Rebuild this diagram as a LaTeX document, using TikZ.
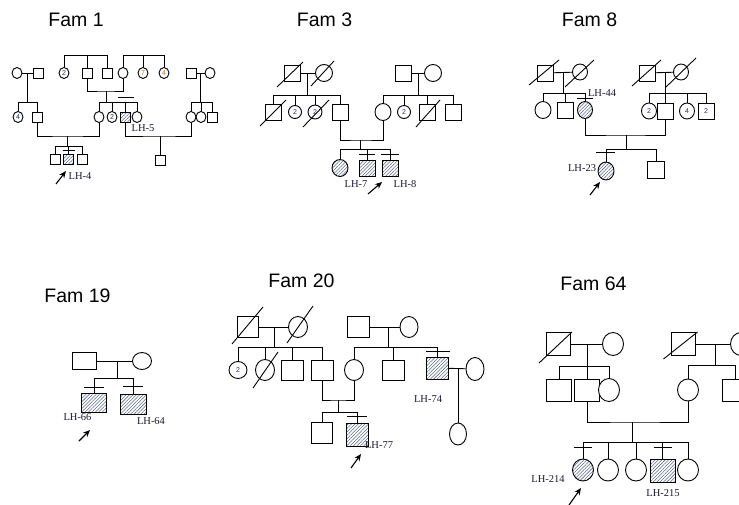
\documentclass[tikz,border=0pt]{standalone}
\usepackage{fontspec}
\setmainfont{Liberation Serif}
\newfontfamily\arialf{Liberation Sans}
\usetikzlibrary{shapes.geometric,patterns.meta,arrows.meta,calc}
\definecolor{hatchc}{RGB}{95,105,135}
\definecolor{numc}{RGB}{40,50,90}
\definecolor{numo}{RGB}{190,110,30}
\definecolor{lblc}{RGB}{25,25,45}
\tikzset{
  sqr/.style={draw, rectangle, inner sep=0pt, minimum width=#1, minimum height=#1, fill=white},
  rct/.style 2 args={draw, rectangle, inner sep=0pt, minimum width=#1, minimum height=#2, fill=white},
  crc/.style 2 args={draw, ellipse, inner sep=0pt, minimum width=#1, minimum height=#2, fill=white},
  aff/.style={pattern={Lines[angle=45,distance=2.4pt,line width=0.55pt]}, pattern color=hatchc},
  num/.style={font=\arialf\fontsize{7}{7}\selectfont, text=numc},
  numor/.style={font=\arialf\fontsize{7}{7}\selectfont, text=numo},
  lbl/.style={font=\fontsize{10.5}{10.5}\selectfont, inner sep=0pt, text=lblc},
  ttl/.style={font=\arialf\fontsize{19.5}{20}\selectfont, inner sep=0pt},
  prob/.style={-{Stealth[length=7pt,width=6pt]}, line width=1.1pt},
}
\begin{document}
\begin{tikzpicture}[x=1pt,y=-1pt,line width=0.9pt]
\useasboundingbox (0,0) rectangle (739,504);
\clip (0,0) rectangle (739,504);

% ================= Fam 1 =================
\node[ttl] (t1) at (76,20) {Fam 1};
\node[crc={10pt}{11pt}] (a1) at (17,73) {};
\node[sqr=10pt] (a2) at (38,73) {};
\node[crc={10pt}{11pt},num] (a3) at (64,73) {2};
\node[sqr=10pt] (a4) at (87,73) {};
\node[sqr=10pt] (a5) at (107,73) {};
\node[crc={10pt}{11pt}] (a6) at (123,73) {};
\node[crc={10pt}{11pt},numor] (a7) at (143,73) {7};
\node[crc={10pt}{11pt},numor] (a8) at (164,73) {4};
\node[sqr=10pt] (a9) at (191,73) {};
\node[crc={10pt}{11pt}] (a10) at (210,73) {};
\node[crc={10pt}{11pt},num] (b1) at (18,117) {4};
\node[sqr=10pt] (b2) at (37,117) {};
\node[crc={10pt}{11pt}] (b3) at (99,117) {};
\node[crc={10pt}{11pt},num] (b4) at (112,117) {2};
\node[sqr=10pt,aff] (b5) at (125,117) {};
\node[crc={10pt}{11pt}] (b6) at (137,117) {};
\node[crc={10pt}{11pt}] (b7) at (191,117) {};
\node[crc={10pt}{11pt}] (b8) at (201,117) {};
\node[sqr=10pt] (b9) at (212,117) {};
\node[sqr=10pt] (c1) at (55,159) {};
\node[sqr=10pt,aff] (c2) at (68.5,159) {};
\node[sqr=10pt] (c3) at (82,159) {};
\node[sqr=10pt] (c4) at (160,160) {};
% top sibships
\coordinate (sA) at (64,55); \coordinate (sA2) at (107,55);
\draw (sA) -- (sA2);
\draw (a3) -- (a3 |- sA); \draw (a4) -- (a4 |- sA); \draw (a5) -- (a5 |- sA);
\coordinate (sB) at (123,55); \coordinate (sB2) at (164,55);
\draw (sB) -- (sB2);
\draw (a6) -- (a6 |- sB); \draw (a7) -- (a7 |- sB); \draw (a8) -- (a8 |- sB);
% left couple
\draw (a1) -- (a2);
\coordinate (m11) at (27.5,73); \coordinate (s11) at (18,102); \coordinate (s12) at (37,102);
\draw (m11) -- (m11 |- s11); \draw (s11) -- (s12);
\draw (b1) -- (b1 |- s11); \draw (b2) -- (b2 |- s11);
% middle couple
\coordinate (m12) at (106,91); \coordinate (s21) at (99,102); \coordinate (s22) at (137,102);
\draw (a4.south) |- (m12) -| (a6.south);
\draw (m12) -- (m12 |- s21); \draw (s21) -- (s22);
\draw (b3) -- (b3 |- s21); \draw (b4) -- (b4 |- s21); \draw (b5) -- (b5 |- s21); \draw (b6) -- (b6 |- s21);
\draw ($(b5.north)+(-7,-14)$) -- ++(16,0);
% right couple
\draw (a9) -- (a10);
\coordinate (m13) at (200,73); \coordinate (s31) at (191,102); \coordinate (s32) at (212,102);
\draw (m13) -- (m13 |- s31); \draw (s31) -- (s32);
\draw (b7) -- (b7 |- s31); \draw (b8) -- (b8 |- s31); \draw (b9) -- (b9 |- s31);
% generation 3
\coordinate (m14) at (67,136); \coordinate (s41) at (55,146); \coordinate (s42) at (82,146);
\draw (b2.south) |- (m14) -| (b3.south);
\draw (m14) -- (m14 |- s41); \draw (s41) -- (s42);
\draw (c1) -- (c1 |- s41); \draw (c2) -- (c2 |- s41); \draw (c3) -- (c3 |- s41);
\draw ($(c2.north)+(-6,-3)$) -- ++(12,0);
\coordinate (m15) at (160,136);
\draw (b5.south) |- (m15) -| (b7.south);
\draw (m15) -- (c4);
\node[lbl] (l5) at (143,128) {LH-5};
\node[lbl] (l4) at (80,176) {LH-4};
\coordinate (p4a) at (56,184); \coordinate (p4b) at (66,171);
\draw[prob] (p4a) -- (p4b);

% ================= Fam 3 =================
\node[ttl] (t3) at (324.5,20) {Fam 3};
\node[sqr=16pt] (d1) at (292,73) {};
\node[crc={17pt}{17pt}] (d2) at (324,73) {};
\node[sqr=16pt] (d3) at (403,73) {};
\node[crc={17pt}{17pt}] (d4) at (433,73) {};
\node[sqr=16pt] (e1) at (273,112) {};
\node[crc={13pt}{13pt},num] (e2) at (295,112) {2};
\node[crc={14pt}{14pt},num] (e3) at (315,112) {2};
\node[sqr=16pt] (e4) at (340,112) {};
\node[crc={16pt}{17pt}] (e5) at (383,112) {};
\node[crc={13pt}{13pt},num] (e6) at (404,112) {2};
\node[sqr=16pt] (e7) at (427,112) {};
\node[sqr=16pt] (e8) at (453,112) {};
\node[crc={16pt}{17pt},aff] (f1) at (340,168) {};
\node[sqr=16pt,aff] (f2) at (367,168) {};
\node[sqr=16pt,aff] (f3) at (390,168) {};
\draw (d1) -- (d2);
\coordinate (m31) at (307,73); \coordinate (s311) at (273,95); \coordinate (s312) at (340,95);
\draw (m31) -- (m31 |- s311); \draw (s311) -- (s312);
\draw (e1) -- (e1 |- s311); \draw (e2) -- (e2 |- s311); \draw (e3) -- (e3 |- s311); \draw (e4) -- (e4 |- s311);
\draw (d3) -- (d4);
\coordinate (m32) at (418,73); \coordinate (s321) at (383,95); \coordinate (s322) at (453,95);
\draw (m32) -- (m32 |- s321); \draw (s321) -- (s322);
\draw (e5) -- (e5 |- s321); \draw (e6) -- (e6 |- s321); \draw (e7) -- (e7 |- s321); \draw (e8) -- (e8 |- s321);
\coordinate (m33) at (360,140); \coordinate (s331) at (340,149); \coordinate (s332) at (390,149);
\draw (e4.south) |- (m33) -| (e5.south);
\draw (m33) -- (m33 |- s331); \draw (s331) -- (s332);
\draw (f1) -- (f1 |- s331); \draw (f2) -- (f2 |- s331); \draw (f3) -- (f3 |- s331);
\draw ($(f2.north)+(-8,-5)$) -- ++(16,0);
\draw ($(f3.north)+(-9,-5)$) -- ++(18,0);
\draw ($(d1)+(-15,14)$) -- ($(d1)+(11,-11)$);
\draw ($(d2)+(-13,13)$) -- ($(d2)+(10,-12)$);
\draw ($(e1)+(-13,14)$) -- ($(e1)+(13,-12)$);
\draw ($(e3)+(-12,15)$) -- ($(e3)+(14,-12)$);
\draw ($(e7)+(-11,15)$) -- ($(e7)+(13,-12)$);
\node[lbl] (l7) at (356,184) {LH-7};
\node[lbl] (l8) at (405,184) {LH-8};
\coordinate (p8a) at (368,194); \coordinate (p8b) at (382,182);
\draw[prob] (p8a) -- (p8b);

% ================= Fam 8 =================
\node[ttl] (t8) at (589.5,20) {Fam 8};
\node[sqr=16pt] (g1) at (545,73) {};
\node[crc={15pt}{16pt}] (g2) at (580,72) {};
\node[sqr=16pt] (g3) at (647,73) {};
\node[crc={15pt}{16pt}] (g4) at (681,72) {};
\node[crc={16pt}{17pt}] (h1) at (543,110) {};
\node[sqr=16pt] (h2) at (565,110) {};
\node[crc={15pt}{17pt},aff] (h3) at (585,110) {};
\node[crc={15pt}{16pt},num] (h4) at (649,111) {2};
\node[sqr=16pt] (h5) at (665,111) {};
\node[crc={15pt}{16pt},num] (h6) at (687,111) {4};
\node[sqr=16pt,num] (h7) at (706,111) {2};
\node[crc={16pt}{18pt},aff] (i1) at (606,171) {};
\node[sqr=17pt] (i2) at (656,170) {};
\draw (g1) -- (g2);
\coordinate (m81) at (563,73); \coordinate (s811) at (543,93); \coordinate (s812) at (585,93);
\draw (m81) -- (m81 |- s811); \draw (s811) -- (s812);
\draw (h1) -- (h1 |- s811); \draw (h2) -- (h2 |- s811); \draw (h3) -- (h3 |- s811);
\draw ($(h3.north)+(-8,-3)$) -- ++(16,0);
\draw (g3) -- (g4);
\coordinate (m82) at (665,73); \coordinate (s821) at (649,93); \coordinate (s822) at (706,93);
\draw (m82) -- (m82 |- s821); \draw (s821) -- (s822);
\draw (h4) -- (h4 |- s821); \draw (h5) -- (h5 |- s821); \draw (h6) -- (h6 |- s821); \draw (h7) -- (h7 |- s821);
\coordinate (m83) at (626,135); \coordinate (s831) at (606,149); \coordinate (s832) at (656,149);
\draw (h3.south) |- (m83) -| (h5.south);
\draw (m83) -- (m83 |- s831); \draw (s831) -- (s832);
\draw (i1) -- (i1 |- s831); \draw (i2) -- (i2 |- s831);
\draw ($(i1.north)+(-10,-9)$) -- ++(19,0);
\draw ($(g1)+(-16,12)$) -- ($(g1)+(14,-13)$);
\draw ($(g2)+(-15,15)$) -- ($(g2)+(14,-12)$);
\draw ($(g3)+(-15,13)$) -- ($(g3)+(14,-13)$);
\draw ($(g4)+(-15,15)$) -- ($(g4)+(15,-14)$);
\node[lbl] (l44) at (602,93) {LH-44};
\node[lbl] (l23) at (582,168) {LH-23};
\coordinate (p23a) at (590,195); \coordinate (p23b) at (600,182);
\draw[prob] (p23a) -- (p23b);

% ================= Fam 19 =================
\node[ttl] (t19) at (77.5,296) {Fam 19};
\node[rct={24pt}{17pt}] (j1) at (84,361) {};
\node[crc={19pt}{17pt}] (j2) at (142,361) {};
\node[rct={25pt}{19pt},aff] (k1) at (94,403) {};
\node[rct={26pt}{20pt},aff] (k2) at (133,404) {};
\draw (j1) -- (j2);
\coordinate (m191) at (117,361); \coordinate (s191) at (94,378); \coordinate (s192) at (133,378);
\draw (m191) -- (m191 |- s191); \draw (s191) -- (s192);
\draw (k1) -- (k1 |- s191); \draw (k2) -- (k2 |- s191);
\draw ($(k1.north)+(-10,-6)$) -- ++(20,0);
\draw ($(k2.north)+(-10,-7)$) -- ++(20,0);
\node[lbl] (l66) at (77.5,417) {LH-66};
\node[lbl] (l64) at (151,421) {LH-64};
\coordinate (p66a) at (79,441); \coordinate (p66b) at (90,430);
\draw[prob] (p66a) -- (p66b);

% ================= Fam 20 =================
\node[ttl] (t20) at (301.5,281) {Fam 20};
\node[rct={21pt}{21pt}] (n1) at (248,327) {};
\node[crc={19pt}{21pt}] (n2) at (298,327) {};
\node[rct={22pt}{21pt}] (n3) at (358,327) {};
\node[crc={18pt}{21pt}] (n4) at (409,327) {};
\node[crc={18pt}{17pt},num] (o1) at (238,370) {2};
\node[crc={19pt}{21pt}] (o2) at (265,370) {};
\node[rct={22pt}{20pt}] (o3) at (292,370) {};
\node[rct={22pt}{20pt}] (o4) at (322,370) {};
\node[crc={19pt}{21pt}] (o5) at (354,370) {};
\node[rct={22pt}{20pt}] (o6) at (393,370) {};
\node[rct={22pt}{22pt},aff] (o7) at (437,368) {};
\node[crc={18pt}{23pt}] (o8) at (475,369) {};
\node[rct={21pt}{21pt}] (q1) at (322,433) {};
\node[rct={22pt}{23pt},aff] (q2) at (357,435) {};
\node[crc={17pt}{22pt}] (q3) at (458,434) {};
\draw (n1) -- (n2);
\coordinate (m201) at (274,327); \coordinate (s2011) at (238,347); \coordinate (s2012) at (322,347);
\draw (m201) -- (m201 |- s2011); \draw (s2011) -- (s2012);
\draw (o1) -- (o1 |- s2011); \draw (o2) -- (o2 |- s2011); \draw (o3) -- (o3 |- s2011); \draw (o4) -- (o4 |- s2011);
\draw (n3) -- (n4);
\coordinate (m202) at (388,327); \coordinate (s2021) at (354,347); \coordinate (s2022) at (437,347);
\draw (m202) -- (m202 |- s2021); \draw (s2021) -- (s2022);
\draw (o5) -- (o5 |- s2021); \draw (o6) -- (o6 |- s2021); \draw (o7) -- (o7 |- s2021);
\draw ($(o7.north)+(-11,-5)$) -- ++(24,0);
\draw (o7) -- (o8);
\coordinate (m203) at (458,368);
\draw (m203) -- (q3);
\coordinate (m204) at (338,400); \coordinate (s2041) at (322,412); \coordinate (s2042) at (357,412);
\draw (o4.south) |- (m204) -| (o5.south);
\draw (m204) -- (m204 |- s2041); \draw (s2041) -- (s2042);
\draw (q1) -- (q1 |- s2041); \draw (q2) -- (q2 |- s2041);
\draw ($(q2.north)+(-10,-6.5)$) -- ++(20,0);
\draw ($(n1)+(-16,17)$) -- ($(n1)+(15,-20)$);
\draw ($(n2)+(-11,16)$) -- ($(n2)+(15,-21)$);
\draw ($(o2)+(-12,18)$) -- ($(o2)+(13,-18)$);
\node[lbl] (l74) at (428,399) {LH-74};
\node[lbl] (l77) at (379,445) {LH-77};
\coordinate (p77a) at (351,468); \coordinate (p77b) at (361,454);
\draw[prob] (p77a) -- (p77b);

% ================= Fam 64 =================
\node[ttl] (t64) at (593.5,284) {Fam 64};
\node[rct={24pt}{23pt}] (u1) at (558,344) {};
\node[crc={21pt}{23pt}] (u2) at (613,344) {};
\node[rct={24pt}{23pt}] (u3) at (683.5,344) {};
\node[crc={21pt}{23pt}] (u4) at (741,344) {};
\node[rct={25pt}{22pt}] (v1) at (559,390) {};
\node[rct={25pt}{22pt}] (v2) at (587,390) {};
\node[crc={21pt}{23pt}] (v3) at (609,390) {};
\node[crc={21pt}{22pt}] (v4) at (688,390) {};
\node[rct={25pt}{22pt}] (v5) at (735,390) {};
\node[crc={21pt}{22pt},aff] (w1) at (583,470) {};
\node[crc={21pt}{22pt}] (w2) at (608,470) {};
\node[crc={21pt}{22pt}] (w3) at (636,470) {};
\node[rct={25pt}{23pt},aff] (w4) at (662.5,471) {};
\node[crc={21pt}{22pt}] (w5) at (688,470) {};
\draw (u1) -- (u2);
\coordinate (m641) at (587,344); \coordinate (s6411) at (559,366); \coordinate (s6412) at (609,366);
\draw (m641) -- (m641 |- s6411); \draw (s6411) -- (s6412);
\draw (v1) -- (v1 |- s6411); \draw (v2) -- (v2 |- s6411); \draw (v3) -- (v3 |- s6411);
\draw (u3) -- (u4);
\coordinate (m642) at (715,344); \coordinate (s6421) at (688,365); \coordinate (s6422) at (735,365);
\draw (m642) -- (m642 |- s6421); \draw (s6421) -- (s6422);
\draw (v4) -- (v4 |- s6421); \draw (v5) -- (v5 |- s6421);
\coordinate (m643) at (632,422); \coordinate (s6431) at (583,442); \coordinate (s6432) at (688,442);
\draw (v2.south) |- (m643) -| (v4.south);
\draw (m643) -- (m643 |- s6431); \draw (s6431) -- (s6432);
\draw (w1) -- (w1 |- s6431); \draw (w2) -- (w2 |- s6431); \draw (w3) -- (w3 |- s6431);
\draw (w4) -- (w4 |- s6431); \draw (w5) -- (w5 |- s6431);
\draw ($(w1.north)+(-9,-11)$) -- ++(18,0);
\draw ($(w4.north)+(-9,-12)$) -- ++(18,0);
\draw ($(u1)+(-19,19)$) -- ($(u1)+(14,-12)$);
\draw ($(u3)+(-20,15)$) -- ($(u3)+(14,-12)$);
\node[lbl] (l214) at (548,479) {LH-214};
\node[lbl] (l215) at (663,493) {LH-215};
\coordinate (p214a) at (569,505); \coordinate (p214b) at (581,488);
\draw[prob] (p214a) -- (p214b);
\end{tikzpicture}
\end{document}
